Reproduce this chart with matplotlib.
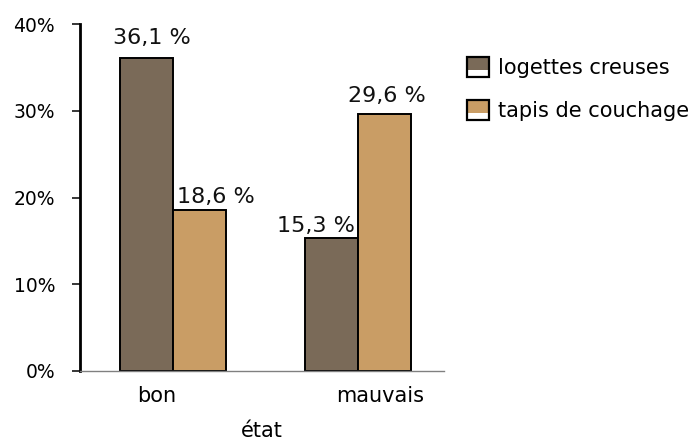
import numpy as np
import matplotlib
matplotlib.use("Agg")
import matplotlib.pyplot as plt
from matplotlib.patches import Rectangle
from matplotlib.legend_handler import HandlerBase

## data
categories = ["bon", "mauvais"]
series_names = ["logettes creuses", "tapis de couchage"]
logettes = [36.1, 15.3]
tapis = [18.6, 29.6]
value_texts = [["36,1 %", "15,3 %"], ["18,6 %", "29,6 %"]]
yticks = [0, 10, 20, 30, 40]
ytick_labels = ["0%", "10%", "20%", "30%", "40%"]
x_title = "état"

## styles
colors = ["#7a6a58", "#c99d65"]
label_offsets = [[(4, 10), (-11, 4.5)], [(11.5, 5), (1.5, 9)]]  # points (dx, dy)
tick_shift = [-0.09, 0.12]


class SplitHandler(HandlerBase):
    ## legend box: colored top, white bottom, black frame
    def create_artists(self, legend, orig_handle, xdescent, ydescent,
                       width, height, fontsize, trans):
        x0, y0 = -xdescent, -ydescent
        back = Rectangle((x0, y0), width, height, fc="white", ec="none", transform=trans)
        top = Rectangle((x0, y0 + height * 0.35), width, height * 0.65,
                        fc=orig_handle.get_facecolor(), ec="none", transform=trans)
        frame = Rectangle((x0, y0), width, height, fc="none", ec="black", lw=1.6, transform=trans)
        return [back, top, frame]


def main():
    fig = plt.figure(figsize=(6.92, 4.41), dpi=100)
    ax = fig.add_axes([80 / 692, 1 - 371 / 441, 364 / 692, 347 / 441])

    x = np.arange(len(categories))
    w = 0.2865
    bars = []
    for i, vals in enumerate([logettes, tapis]):
        b = ax.bar(x + (i - 0.5) * w, vals, w, color=colors[i], edgecolor="black",
                   linewidth=1.4, label=series_names[i], zorder=3)
        bars.append(b)
        for j, rect in enumerate(b):
            dx, dy = label_offsets[i][j]
            ax.annotate(value_texts[i][j], (rect.get_x() + rect.get_width() / 2, rect.get_height()),
                        xytext=(dx, dy), textcoords="offset points", ha="center", va="baseline",
                        fontsize=16, color="#111111")

    ax.set_xlim(-0.503, 1.465)
    ax.set_ylim(0, 40)
    ax.set_yticks(yticks)
    ax.set_yticklabels(ytick_labels, fontsize=13.5)
    ax.set_xticks(x + np.array(tick_shift))
    ax.set_xticklabels(categories, fontsize=15)
    ax.tick_params(axis="x", length=0, pad=11)
    ax.tick_params(axis="y", length=6, width=1.1, pad=12, direction="out")

    for s in ["top", "right"]:
        ax.spines[s].set_visible(False)
    ax.spines["left"].set_linewidth(2)
    ax.spines["bottom"].set_color("#808080")
    ax.spines["bottom"].set_linewidth(1)
    ax.spines["bottom"].set_zorder(4)

    ax.set_xlabel(x_title, fontsize=15, va="center")
    ax.xaxis.set_label_coords(0.5, (371 - 431) / 347)

    handles = [b.patches[0] for b in bars]
    fig.legend(handles, series_names, handler_map={Rectangle: SplitHandler()},
               loc="upper left", bbox_to_anchor=(467 / 692, 1 - 57 / 441),
               frameon=False, fontsize=15, borderpad=0, borderaxespad=0,
               handlelength=1.06, handleheight=1.1, handletextpad=0.43,
               labelspacing=1.05)

    fig.savefig("out.png", dpi=100)


if __name__ == "__main__":
    main()
